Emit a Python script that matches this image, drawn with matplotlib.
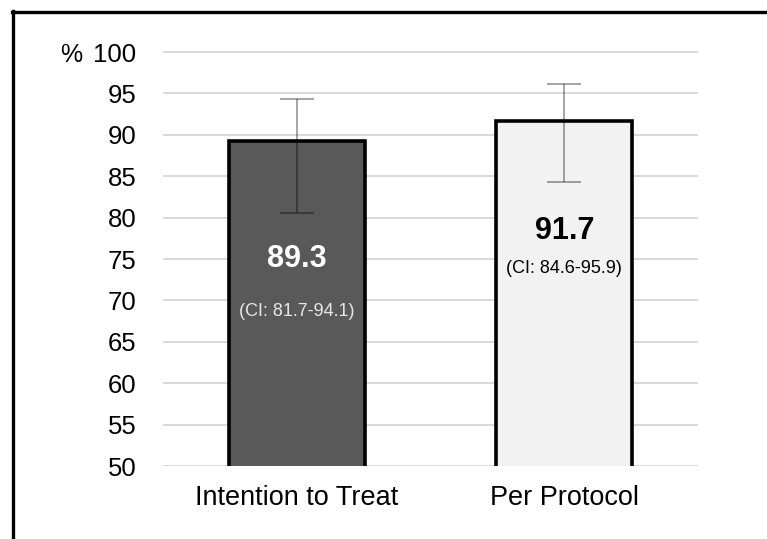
import matplotlib as mpl

mpl.use("Agg")

import matplotlib.pyplot as plt
from matplotlib.lines import Line2D

plt.rcParams.update({"font.family": ["Liberation Sans", "DejaVu Sans"]})

# data
groups = ["Intention to Treat", "Per Protocol"]
values = [89.3, 91.7]
err_low = [80.6, 84.3]
err_high = [94.3, 96.2]
ci_labels = ["(CI: 81.7-94.1)", "(CI: 84.6-95.9)"]
yticks = [50, 55, 60, 65, 70, 75, 80, 85, 90, 95, 100]

W, H = 767, 539
fig = plt.figure(figsize=(W / 100, H / 100), dpi=100)

# axes placed in pixel terms
x0, x1 = 163, 698
y_bot, y_top = 466, 47.9
ax = fig.add_axes([x0 / W, 1 - y_bot / H, (x1 - x0) / W, (y_bot - y_top) / H])

pos = list(range(len(groups)))
yerr = [
    [v - lo for v, lo in zip(values, err_low)],
    [hi - v for v, hi in zip(values, err_high)],
]
ax.bar(pos, values, width=0.51, bottom=0, color=["#595959", "#f2f2f2"],
       edgecolor="black", linewidth=2.6, zorder=2)
ax.errorbar(pos, values, yerr=yerr, fmt="none", ecolor=(0, 0, 0, 0.45),
            elinewidth=1.1, capsize=12, capthick=1.1, zorder=3)

ax.set_xlim(-0.5, 1.5)
ax.set_ylim(50, 100.5)
ax.set_yticks(yticks)
ax.set_xticks(pos)
ax.set_xticklabels(groups, fontsize=19.5)
ax.tick_params(axis="y", labelsize=18.5, length=0, pad=19)
ax.tick_params(axis="x", length=0, pad=14)
ax.grid(axis="y", color="#d9d9d9", linewidth=1.4, zorder=0)
ax.set_axisbelow(True)
for s in ax.spines.values():
    s.set_visible(False)

# value labels inside the bars
ax.text(0, 75.0, "89.3", ha="center", va="center", fontsize=22,
        fontweight="bold", color="white", zorder=4)
ax.text(0, 68.7, ci_labels[0], ha="center", va="center", fontsize=13,
        color="#e6e6e6", zorder=4)
ax.text(1, 78.4, "91.7", ha="center", va="center", fontsize=22,
        fontweight="bold", color="black", zorder=4)
ax.text(1, 73.8, ci_labels[1], ha="center", va="center", fontsize=13,
        color="black", zorder=4)

fig.text(71 / W, 1 - 55 / H, "%", ha="center", va="center", fontsize=18)

# frame lines (top and left only)
fig.add_artist(Line2D([11.5 / W, 1], [1 - 11.5 / H, 1 - 11.5 / H],
                      color="black", linewidth=2.4))
fig.add_artist(Line2D([12.5 / W, 12.5 / W], [0, 1 - 10.5 / H],
                      color="black", linewidth=2.4))

plt.savefig("out.png", dpi=100)
plt.close()
